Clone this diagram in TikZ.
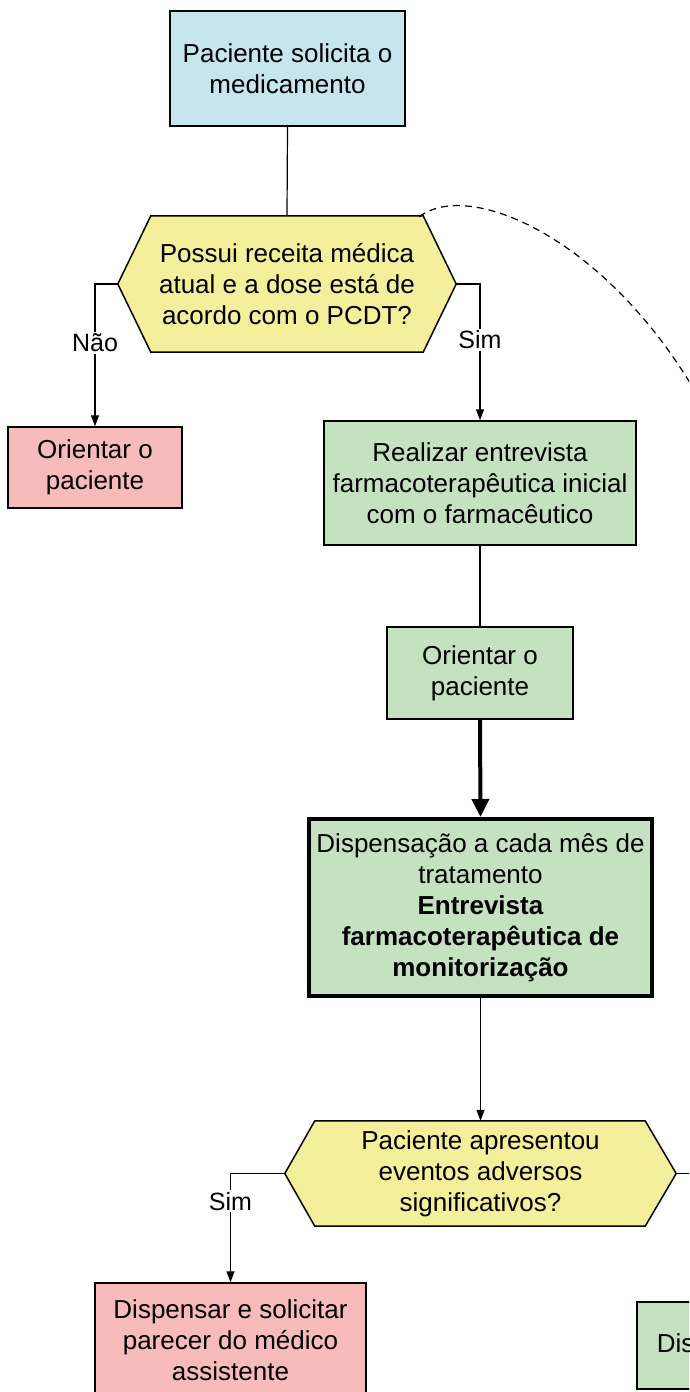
\documentclass[tikz,border=0pt]{standalone}
\usepackage{fontspec}
\setmainfont{Liberation Sans}
\usetikzlibrary{arrows.meta,backgrounds}
\definecolor{cblue}{HTML}{C5E6EC}
\definecolor{cyellow}{HTML}{F4EF9A}
\definecolor{cpink}{HTML}{F8BBBB}
\definecolor{cgreen}{HTML}{C4E2C0}
\begin{document}
\begin{tikzpicture}[x=1pt,y=-1pt,
  every node/.style={font=\fontsize{26}{31}\selectfont},
  box/.style={draw, line width=1.5pt, align=center, inner sep=0pt},
  hexbox/.style={align=center, inner sep=0pt},
  conn/.style={line width=1.2pt},
  arr/.style={conn, -{Triangle[length=11pt,width=8pt]}},
  thickarr/.style={line width=4pt, -{Triangle[length=18pt,width=17pt]}},
  lbl/.style={fill=white, inner sep=2pt, font=\fontsize{25}{30}\selectfont},
  hexfill/.style={draw, line width=1.5pt, fill=cyellow, line join=miter},
  dashline/.style={line width=1.2pt, dash pattern=on 7pt off 5pt}
]
\useasboundingbox (0,0) rectangle (689,1392);
\clip (0,0) rectangle (689,1392);

% nodes
\node[box, fill=cblue, minimum width=235pt, minimum height=115pt] (b1) at (287.5,68.5) {Paciente solicita o\\medicamento};
\node[hexbox, minimum width=338pt, minimum height=136pt] (h1) at (287,284) {Possui receita médica\\atual e a dose está de\\acordo com o PCDT?};
\node[box, fill=cpink, minimum width=174pt, minimum height=81pt] (o1) at (95,467.5) {Orientar o\\paciente};
\node[box, fill=cgreen, minimum width=312pt, minimum height=124pt] (r1) at (480,483) {Realizar entrevista\\farmacoterapêutica inicial\\com o farmacêutico};
\node[box, fill=cgreen, minimum width=186pt, minimum height=92pt] (o2) at (480,673) {Orientar o\\paciente};
\node[box, line width=4pt, fill=cgreen, minimum width=343pt, minimum height=177pt] (d1) at (480.5,907.5) {Dispensação a cada mês de\\tratamento\\\textbf{Entrevista}\\\textbf{farmacoterapêutica de}\\\textbf{monitorização}};
\node[hexbox, minimum width=391pt, minimum height=105pt] (h2) at (480.5,1173.5) {Paciente apresentou\\eventos adversos\\significativos?};
\node[box, fill=cpink, minimum width=271pt, minimum height=114pt] (p2) at (230.5,1340) {Dispensar e solicitar\\parecer do médico\\assistente};
\node[box, fill=cgreen, anchor=west, minimum height=87pt, inner xsep=20pt] (g3) at (636,1345.5) {Dispensar};

% hexagon outlines
\begin{scope}[on background layer]
\draw[hexfill] (h1.west) -- ([xshift=33pt]h1.north west) -- ([xshift=-33pt]h1.north east) -- (h1.east) -- ([xshift=-33pt]h1.south east) -- ([xshift=33pt]h1.south west) -- cycle;
\draw[hexfill] (h2.west) -- ([xshift=30pt]h2.north west) -- ([xshift=-31pt]h2.north east) -- (h2.east) -- ([xshift=-31pt]h2.south east) -- ([xshift=30pt]h2.south west) -- cycle;
\end{scope}

\coordinate (h1tr) at ([xshift=-37pt,yshift=-1pt]h1.north east);
\coordinate (dashend) at (700,400);

% connectors
\draw[conn] (b1.south) -- (h1.north);
\draw[arr] (h1.west) -| node[lbl, pos=0.706] (lnao) {Não} (o1.north);
\draw[arr] (h1.east) -| node[lbl, pos=0.705] (lsim1) {Sim} (r1.north);
\draw[conn] (r1.south) -- (o2.north);
\draw[thickarr] (o2.south) -- (d1.north);
\draw[arr] (d1.south) -- (h2.north);
\draw[arr] (h2.west) -| node[lbl, pos=0.627] (lsim2) {Sim} (p2.north);
\draw[arr] (h2.east) -| (g3.north);
\draw[dashline] (h1tr) .. controls (470,178) and (610,240) .. (dashend);
\end{tikzpicture}
\end{document}
